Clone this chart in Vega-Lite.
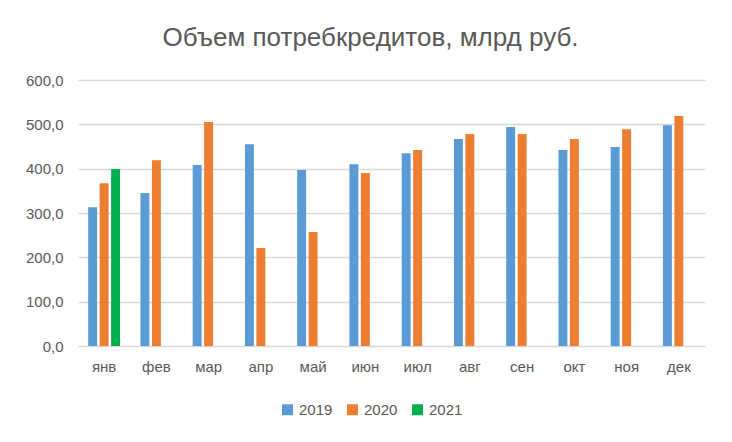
{
  "$schema": "https://vega.github.io/schema/vega-lite/v6.json",
  "description": "Объем потребкредитов по месяцам, 2019-2021",
  "width": 627,
  "height": 266,
  "autosize": {"type": "none"},
  "padding": {"left": 78, "top": 80, "right": 27, "bottom": 96},
  "background": "white",
  "config": {
    "view": {"stroke": null},
    "font": "Liberation Sans",
    "axis": {
      "labelFont": "Liberation Sans",
      "labelColor": "#595959",
      "labelFontSize": 15,
      "domain": false,
      "ticks": false,
      "title": null
    },
    "legend": {
      "labelFont": "Liberation Sans",
      "labelColor": "#595959",
      "labelFontSize": 15
    }
  },
  "title": {
    "text": "Объем потребкредитов, млрд руб.",
    "font": "Liberation Sans",
    "fontSize": 26,
    "fontWeight": "normal",
    "color": "#595959",
    "anchor": "middle",
    "frame": "group",
    "dx": -21,
    "baseline": "alphabetic",
    "offset": 1
  },
  "data": {
    "values": [
      {"month": "янв", "year": "2019", "value": 313},
      {"month": "янв", "year": "2020", "value": 367},
      {"month": "янв", "year": "2021", "value": 399},
      {"month": "фев", "year": "2019", "value": 345},
      {"month": "фев", "year": "2020", "value": 419},
      {"month": "мар", "year": "2019", "value": 408},
      {"month": "мар", "year": "2020", "value": 505},
      {"month": "апр", "year": "2019", "value": 455},
      {"month": "апр", "year": "2020", "value": 221},
      {"month": "май", "year": "2019", "value": 397},
      {"month": "май", "year": "2020", "value": 257},
      {"month": "июн", "year": "2019", "value": 410},
      {"month": "июн", "year": "2020", "value": 390},
      {"month": "июл", "year": "2019", "value": 435},
      {"month": "июл", "year": "2020", "value": 442},
      {"month": "авг", "year": "2019", "value": 467},
      {"month": "авг", "year": "2020", "value": 478},
      {"month": "сен", "year": "2019", "value": 494},
      {"month": "сен", "year": "2020", "value": 478},
      {"month": "окт", "year": "2019", "value": 442},
      {"month": "окт", "year": "2020", "value": 467},
      {"month": "ноя", "year": "2019", "value": 449},
      {"month": "ноя", "year": "2020", "value": 489},
      {"month": "дек", "year": "2019", "value": 498},
      {"month": "дек", "year": "2020", "value": 519}
    ]
  },
  "mark": {"type": "bar"},
  "encoding": {
    "x": {
      "field": "month",
      "type": "nominal",
      "sort": ["янв", "фев", "мар", "апр", "май", "июн", "июл", "авг", "сен", "окт", "ноя", "дек"],
      "scale": {"paddingInner": 0.39, "paddingOuter": 0.195},
      "axis": {"labelAngle": 0, "labelPadding": 13}
    },
    "xOffset": {
      "field": "year",
      "type": "nominal",
      "scale": {"domain": ["2019", "2020", "2021"], "paddingInner": 0.22, "paddingOuter": 0}
    },
    "y": {
      "field": "value",
      "type": "quantitative",
      "scale": {"domain": [0, 600], "nice": false},
      "axis": {
        "values": [0, 100, 200, 300, 400, 500, 600],
        "labelExpr": "replace(format(datum.value, '.1f'), '.', ',')",
        "labelPadding": 15,
        "grid": true,
        "gridColor": "#d9d9d9",
        "gridWidth": 1.3
      }
    },
    "color": {
      "field": "year",
      "type": "nominal",
      "scale": {"domain": ["2019", "2020", "2021"], "range": ["#5b9bd5", "#ed7d31", "#00b050"]},
      "legend": {
        "title": null,
        "orient": "none",
        "direction": "horizontal",
        "legendX": 202,
        "legendY": 322,
        "symbolType": "square",
        "symbolSize": 121,
        "symbolStrokeWidth": 0,
        "symbolOpacity": 1,
        "labelOffset": 4,
        "columnPadding": 12
      }
    }
  }
}
